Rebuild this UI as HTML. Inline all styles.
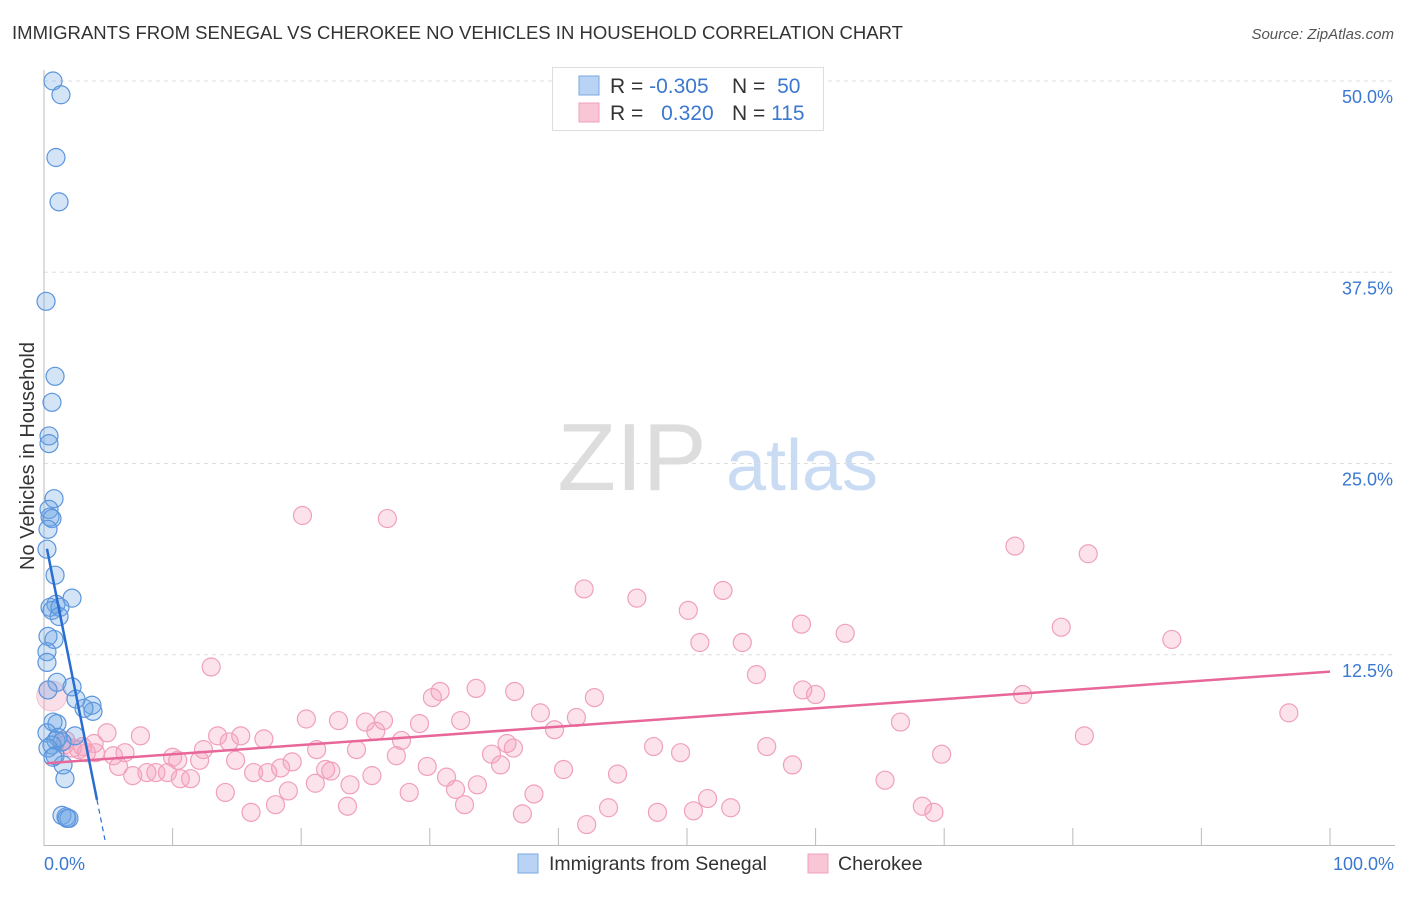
<!DOCTYPE html>
<html><head><meta charset="utf-8"><style>
body{margin:0;background:#fff;font-family:"Liberation Sans",sans-serif}
svg text{font-family:"Liberation Sans",sans-serif}
</style></head><body>
<svg width="1406" height="892" viewBox="0 0 1406 892" xmlns="http://www.w3.org/2000/svg">
<text x="12" y="39" font-size="18" fill="#333" textLength="891" lengthAdjust="spacingAndGlyphs">IMMIGRANTS FROM SENEGAL VS CHEROKEE NO VEHICLES IN HOUSEHOLD CORRELATION CHART</text>
<text x="1394" y="39" font-size="15" fill="#555" font-style="italic" text-anchor="end">Source: ZipAtlas.com</text>
<g>
<text x="632" y="490" font-size="96" fill="#ddd" font-family="Liberation Serif,serif" text-anchor="middle">ZIP</text>
<text x="802" y="490" font-size="72" fill="#c9dcf3" text-anchor="middle">atlas</text>
</g>
<g id="grid"></g>
<g id="axes"></g>
<g id="pts"></g>
<g id="trend"></g>
<text transform="translate(34,456) rotate(-90)" font-size="20" fill="#333" text-anchor="middle">No Vehicles in Household</text>
<g>
<rect x="552.5" y="67.5" width="271" height="63" fill="#fff" stroke="#ddd"/>
<rect x="579" y="76" width="20" height="19" fill="#b8d3f3" stroke="#7aaae6"/>
<rect x="579" y="103" width="20" height="19" fill="#f9c6d5" stroke="#f0a0bc"/>
<text x="610" y="93" font-size="21" fill="#333">R = <tspan fill="#3b78d0">-0.305</tspan></text>
<text x="732" y="93" font-size="21" fill="#333">N = <tspan fill="#3b78d0" dx="6">50</tspan></text>
<text x="610" y="120" font-size="21" fill="#333">R = <tspan fill="#3b78d0" dx="12">0.320</tspan></text>
<text x="732" y="120" font-size="21" fill="#333">N = <tspan fill="#3b78d0">115</tspan></text>
</g>
<g>
<rect x="518" y="854" width="20" height="19" fill="#b8d3f3" stroke="#7aaae6"/>
<text x="549" y="870" font-size="19.5" fill="#333">Immigrants from Senegal</text>
<rect x="808" y="854" width="20" height="19" fill="#f9c6d5" stroke="#f0a0bc"/>
<text x="838" y="870" font-size="19.5" fill="#333">Cherokee</text>
</g>
</svg>
<script>
const yTicks=[12.5,25,37.5,50];
const yTickLabels=["12.5%","25.0%","37.5%","50.0%"];
const xTickVals=[0,10,20,30,40,50,60,70,80,90,100];
const xEndLabels=["0.0%","100.0%"];
const blueX=[0.70,1.32,0.93,1.17,0.16,0.86,0.62,0.39,0.39,0.78,0.39,0.47,0.62,0.31,0.23,0.86,2.18,0.93,0.47,0.62,1.24,1.17,0.78,0.31,0.23,0.23,1.01,2.18,0.31,2.49,3.73,3.81,3.11,0.70,1.01,0.23,2.41,1.09,0.93,1.40,0.62,0.31,0.86,1.48,0.70,1.63,1.40,1.71,1.94,1.79];
const blueY=[50.0,49.1,45.0,42.1,35.6,30.7,29.0,26.8,26.3,22.7,22.0,21.5,21.4,20.7,19.4,17.7,16.2,15.8,15.6,15.4,15.6,15.0,13.5,13.7,12.7,12.0,10.7,10.4,10.2,9.6,9.2,8.8,9.0,8.1,8.0,7.4,7.2,7.1,6.9,6.8,6.6,6.4,5.9,5.3,5.8,4.4,2.0,1.9,1.8,1.8];
const pinkX=[20.1,26.7,75.5,81.2,42.0,46.1,52.8,50.1,58.9,62.3,51.0,54.3,79.1,87.7,13.0,55.4,33.6,30.8,36.6,30.2,42.8,59.0,60.0,76.1,96.8,20.4,22.9,25.0,26.4,29.2,32.4,38.6,41.4,66.6,25.8,39.7,4.9,7.5,13.5,15.3,17.1,27.8,14.4,36.0,47.4,56.2,80.9,3.9,6.3,10.0,12.4,14.9,21.2,24.3,27.4,36.5,34.8,35.5,49.5,69.8,5.4,5.8,6.9,8.0,8.7,9.6,10.6,11.4,10.4,12.1,16.3,17.4,18.4,19.3,21.1,21.9,22.3,25.5,23.8,29.8,31.3,32.0,33.7,44.6,40.4,58.2,65.4,14.1,19.0,28.4,23.6,32.7,38.1,18.0,16.1,43.9,47.7,50.5,51.6,53.4,68.3,69.2,37.2,42.2,1.6,3.0,2.7,3.3,2.2,4.0,1.7];
const pinkY=[21.6,21.4,19.6,19.1,16.8,16.2,16.7,15.4,14.5,13.9,13.3,13.3,14.3,13.5,11.7,11.2,10.3,10.1,10.1,9.7,9.7,10.2,9.9,9.9,8.7,8.3,8.2,8.1,8.2,8.0,8.2,8.7,8.4,8.1,7.5,7.6,7.4,7.2,7.2,7.2,7.0,6.9,6.8,6.7,6.5,6.5,7.2,6.7,6.1,5.8,6.3,5.6,6.3,6.3,5.9,6.4,6.0,5.3,6.1,6.0,5.9,5.2,4.6,4.8,4.8,4.8,4.4,4.4,5.6,5.6,4.8,4.8,5.1,5.5,4.1,5.0,4.9,4.6,4.0,5.2,4.5,3.7,4.0,4.7,5.0,5.3,4.3,3.5,3.6,3.5,2.6,2.7,3.4,2.7,2.2,2.5,2.2,2.3,3.1,2.5,2.6,2.2,2.1,1.4,6.6,6.5,6.3,6.1,6.4,6.1,6.9];
const bigPink=[0.6,9.8];
const blueTrend=[20.4,-4.22];
const pinkTrend=[5.4,0.06];
const NS="http://www.w3.org/2000/svg";
const sx=v=>44+v*12.86, sy=v=>846-v*15.3;
function mk(t,a,p){const e=document.createElementNS(NS,t);for(const k in a)e.setAttribute(k,a[k]);p.appendChild(e);return e;}
const grid=document.getElementById('grid'),axes=document.getElementById('axes'),pts=document.getElementById('pts'),tr=document.getElementById('trend');
yTicks.forEach((v,i)=>{
 const l=mk('line',{x1:44,x2:1395,y1:sy(v),y2:sy(v),stroke:'#ddd','stroke-dasharray':'4,4'},grid);
 
 
 const t=mk('text',{x:1393,y:sy(v)+22,'font-size':18,fill:'#3b78d0','text-anchor':'end'},grid);
 t.textContent=yTickLabels[i];
 
 
});
const ya=mk('line',{x1:44,x2:44,y1:70,y2:846,stroke:'#bbb'},axes);


const xa=mk('line',{x1:44,x2:1395,y1:845.5,y2:845.5,stroke:'#bbb'},axes);


xTickVals.forEach(v=>{
 const t=mk('line',{x1:sx(v),x2:sx(v),y1:828,y2:846,stroke:'#bbb'},axes);
 
 
});
[[0,'start',44],[100,'end',1394]].forEach((d,i)=>{
 const t=mk('text',{x:d[2],y:870,'font-size':18,fill:'#3b78d0','text-anchor':d[1]},axes);
 t.textContent=xEndLabels[i];
 
 
});
const bp=mk('circle',{cx:sx(bigPink[0]),cy:sy(bigPink[1]),r:15,fill:'rgba(240,150,180,0.3)',stroke:'rgba(240,150,180,0.5)'},pts);


pinkX.forEach((x,i)=>{
 const c=mk('circle',{cx:sx(x),cy:sy(pinkY[i]),r:9,fill:'rgba(244,160,190,0.3)',stroke:'#f0a0bc','stroke-width':1.2},pts);
 
 
});
blueX.forEach((x,i)=>{
 const c=mk('circle',{cx:sx(x),cy:sy(blueY[i]),r:9,fill:'rgba(110,165,230,0.3)',stroke:'#5b95dc','stroke-width':1.2},pts);
 
 
});
const pl=mk('line',{x1:sx(0.2),y1:sy(pinkTrend[0]+pinkTrend[1]*0.2),x2:sx(100),y2:sy(pinkTrend[0]+pinkTrend[1]*100),stroke:'#e8679a','stroke-width':2.5},tr);


const bx1=0.23,bx2=4.12,bx3=4.74;
const bl=mk('line',{x1:sx(bx1),y1:sy(blueTrend[0]+blueTrend[1]*bx1),x2:sx(bx2),y2:sy(blueTrend[0]+blueTrend[1]*bx2),stroke:'#2a6dd0','stroke-width':2.5},tr);


const bd=mk('line',{x1:sx(bx2),y1:sy(blueTrend[0]+blueTrend[1]*bx2),x2:sx(bx3),y2:sy(blueTrend[0]+blueTrend[1]*bx3),stroke:'#2a6dd0','stroke-width':1.2,'stroke-dasharray':'5,4'},tr);


</script>
</body></html>
